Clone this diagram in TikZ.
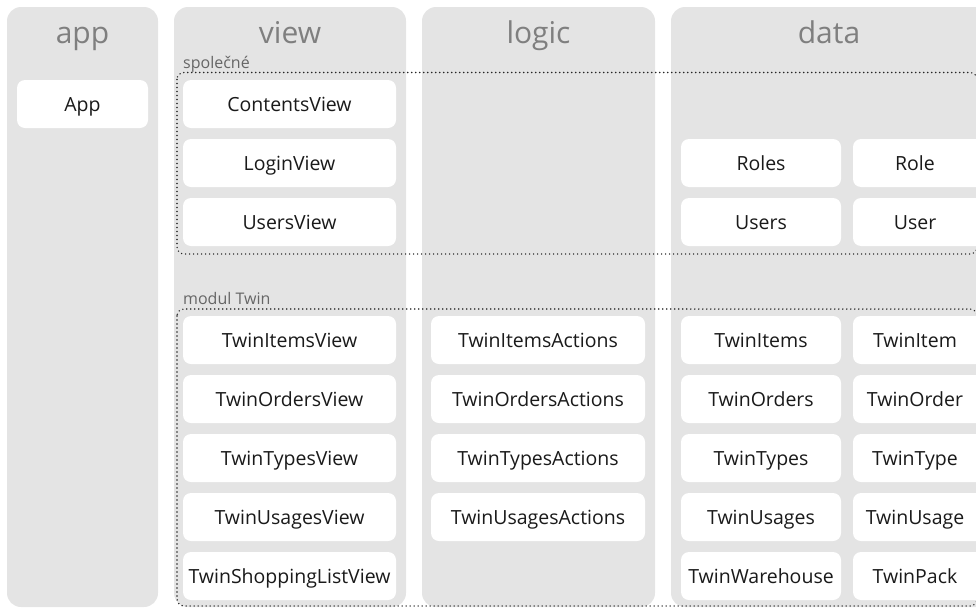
\documentclass[tikz,border=0pt]{standalone}
\usepackage{fontspec}
\setmainfont{Open Sans}
\definecolor{colgray}{HTML}{E4E4E4}
\definecolor{titlegray}{HTML}{7F7F7F}
\definecolor{labelgray}{HTML}{666666}
\definecolor{txt}{HTML}{1A1A1A}
\begin{document}
\begin{tikzpicture}[x=1pt,y=-1pt,
  colbox/.style={fill=colgray, rounded corners=14pt},
  itembox/.style={fill=white, rounded corners=8pt, minimum height=48pt, inner sep=0pt,
    text height=14pt, text depth=0pt,
    font=\fontsize{19.5}{24}\selectfont, text=txt},
  coltitle/.style={anchor=base, font=\fontsize{30}{36}\selectfont, text=titlegray},
  grouplabel/.style={anchor=base west, font=\fontsize{16}{20}\selectfont, text=labelgray, inner sep=0pt},
  groupframe/.style={draw=black!85, line width=1.6pt, line cap=round, dash pattern=on 0pt off 4pt, rounded corners=7pt}
]
\useasboundingbox (0,0) rectangle (976,608);
\clip (0,0) rectangle (976,608);
% columns
\fill[colbox] (7,7) rectangle (158,607);
\fill[colbox] (174,7) rectangle (406,607);
\fill[colbox] (422,7) rectangle (655,607);
\fill[colbox] (671,7) rectangle (990,607);
% titles
\node[coltitle] (tapp) at (82.5,43) {app};
\node[coltitle] (tview) at (290,43) {view};
\node[coltitle] (tlogic) at (538.5,43) {logic};
\node[coltitle] (tdata) at (829,43) {data};
% app
\node[itembox, minimum width=131pt] (App) at (82.5,104) {App};
% view
\node[itembox, minimum width=213pt] (ContentsView) at (289.5,104) {ContentsView};
\node[itembox, minimum width=213pt] (LoginView) at (289.5,163) {LoginView};
\node[itembox, minimum width=213pt] (UsersView) at (289.5,222) {UsersView};
\node[itembox, minimum width=213pt] (TwinItemsView) at (289.5,340) {TwinItemsView};
\node[itembox, minimum width=213pt] (TwinOrdersView) at (289.5,399) {TwinOrdersView};
\node[itembox, minimum width=213pt] (TwinTypesView) at (289.5,458) {TwinTypesView};
\node[itembox, minimum width=213pt] (TwinUsagesView) at (289.5,517) {TwinUsagesView};
\node[itembox, minimum width=213pt] (TwinShoppingListView) at (289.5,576) {TwinShoppingListView};
% logic
\node[itembox, minimum width=214pt] (TwinItemsActions) at (538,340) {TwinItemsActions};
\node[itembox, minimum width=214pt] (TwinOrdersActions) at (538,399) {TwinOrdersActions};
\node[itembox, minimum width=214pt] (TwinTypesActions) at (538,458) {TwinTypesActions};
\node[itembox, minimum width=214pt] (TwinUsagesActions) at (538,517) {TwinUsagesActions};
% data left
\node[itembox, minimum width=160pt] (Roles) at (761,163) {Roles};
\node[itembox, minimum width=160pt] (Users) at (761,222) {Users};
\node[itembox, minimum width=160pt] (TwinItems) at (761,340) {TwinItems};
\node[itembox, minimum width=160pt] (TwinOrders) at (761,399) {TwinOrders};
\node[itembox, minimum width=160pt] (TwinTypes) at (761,458) {TwinTypes};
\node[itembox, minimum width=160pt] (TwinUsages) at (761,517) {TwinUsages};
\node[itembox, minimum width=160pt] (TwinWarehouse) at (761,576) {TwinWarehouse};
% data right (cut at the edge)
\node[itembox, minimum width=140pt] (Role) at (923,163) {\hspace*{-16pt}Role};
\node[itembox, minimum width=140pt] (User) at (923,222) {\hspace*{-16pt}User};
\node[itembox, minimum width=140pt] (TwinItem) at (923,340) {\hspace*{-16pt}TwinItem};
\node[itembox, minimum width=140pt] (TwinOrder) at (923,399) {\hspace*{-16pt}TwinOrder};
\node[itembox, minimum width=140pt] (TwinType) at (923,458) {\hspace*{-16pt}TwinType};
\node[itembox, minimum width=140pt] (TwinUsage) at (923,517) {\hspace*{-16pt}TwinUsage};
\node[itembox, minimum width=140pt] (TwinPack) at (923,576) {\hspace*{-16pt}TwinPack};
% groups
\node[grouplabel] (lspol) at (183,68) {společné};
\node[grouplabel] (lmod) at (183,304) {modul Twin};
\draw[groupframe] (177,72.5) rectangle (977,254);
\draw[groupframe] (177,309) rectangle (977,606);
\end{tikzpicture}
\end{document}
